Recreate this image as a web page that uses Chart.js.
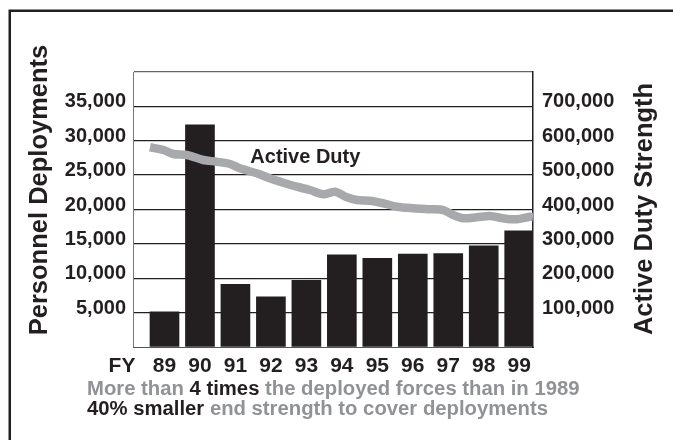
<!DOCTYPE html>
<html><head><meta charset="utf-8">
<script src="https://cdn.jsdelivr.net/npm/chart.js@4"></script>
<style>html,body{margin:0;padding:0;background:#fff}#wrap{position:relative;width:673px;height:440px}</style>
</head><body><div id="wrap"><canvas id="c" width="673" height="440"></canvas></div>
<script>
const years = ['89','90','91','92','93','94','95','96','97','98','99'];
const deployments = [5100,32300,9100,7300,9700,13400,12900,13500,13600,14700,16900];
// Active duty strength (x in fiscal-year index units)
const strengthX = [-0.41,-0.03,0.25,0.63,1.09,1.47,1.85,2.13,2.60,2.97,3.35,3.73,4.10,4.48,4.81,5.14,5.42,5.79,6.17,6.55,7.01,7.49,7.86,8.14,8.42,8.80,9.18,9.55,9.93,10.30,10.39];
const strengthY = [581000,573000,561500,558500,544000,539000,532400,519800,505300,490800,478000,466300,456700,444200,451800,435500,427600,425600,418000,408100,403500,400600,398500,384000,374400,377300,381100,374400,371500,379100,378000];
const leftTitle = 'Personnel Deployments';
const rightTitle = 'Active Duty Strength';
const lineLabel = 'Active Duty';
const caption1 = [['g','More than '],['k','4 times'],['g',' the deployed forces than in 1989']];
const caption2 = [['k','40% smaller'],['g',' end strength to cover deployments']];

const BLACK = '#231f20', GRAY = '#909295', LINE = '#a7a9ac';
const FONT = '"Liberation Sans", Arial, Helvetica, sans-serif';

const decor = {
  id: 'decor',
  beforeDraw(chart) {
    const c = chart.ctx; c.save(); c.fillStyle = '#fff'; c.fillRect(0, 0, chart.width, chart.height); c.restore();
  },
  afterDraw(chart) {
    const c = chart.ctx; c.save();
    c.strokeStyle = BLACK; c.lineWidth = 2.5; c.strokeRect(9.75, 10.75, 700, 500);
    c.fillStyle = BLACK;
    c.font = 'bold 25.5px ' + FONT; c.textAlign = 'center'; c.textBaseline = 'alphabetic';
    c.save(); c.translate(47, 190); c.rotate(-Math.PI / 2); c.fillText(leftTitle, 0, 0); c.restore();
    c.save(); c.translate(652, 209); c.rotate(-Math.PI / 2); c.fillText(rightTitle, 0, 0); c.restore();
    c.font = 'bold 21px ' + FONT; c.fillText('FY', 122, 372);
    const xs = chart.scales.x, y1 = chart.scales.y1;
    c.font = 'bold 20px ' + FONT; c.textAlign = 'left';
    c.fillText(lineLabel, xs.getPixelForValue(2.42), y1.getPixelForValue(534000));
    const seg = (x, y, parts) => {
      c.font = 'bold 20.3px ' + FONT; c.textAlign = 'left';
      for (const [col, t] of parts) { c.fillStyle = col === 'k' ? BLACK : GRAY; c.fillText(t, x, y); x += c.measureText(t).width; }
    };
    seg(87, 395, caption1);
    seg(87, 415, caption2);
    c.restore();
  }
};

new Chart(document.getElementById('c'), {
  type: 'bar',
  data: {
    datasets: [
      { type: 'line', label: lineLabel, data: strengthX.map((x, i) => ({x, y: strengthY[i]})), xAxisID: 'x', yAxisID: 'y1',
        borderColor: LINE, borderWidth: 8.5, pointRadius: 0, tension: 0.3, borderJoinStyle: 'round', borderCapStyle: 'butt', order: 0 },
      { type: 'bar', label: 'Personnel Deployments', data: deployments.map((y, i) => ({x: i, y})), xAxisID: 'x', yAxisID: 'y',
        backgroundColor: BLACK, barThickness: 29, order: 1 }
    ]
  },
  options: {
    responsive: false, animation: false, events: [],
    layout: { padding: { left: 0, right: 0, top: 72, bottom: 0 } },
    plugins: { legend: { display: false }, tooltip: { enabled: false }, title: { display: false } },
    scales: {
      x: { type: 'linear', min: -0.888, max: 10.389, offset: false,
        grid: { display: false, drawTicks: false },
        border: { display: true, color: '#555', width: 1 },
        ticks: { stepSize: 1, includeBounds: false, autoSkip: false, maxRotation: 0, padding: 7,
          color: BLACK, font: { family: FONT, size: 21, weight: 'bold' },
          callback: v => years[v] ?? '' },
        afterFit: s => { s.height = 93; } },
      y: { position: 'left', min: 0, max: 40000,
        grid: { drawTicks: false, lineWidth: 1.3,
          color: ctx => ctx.tick.value === 40000 ? '#666' : (ctx.tick.value === 0 ? 'rgba(0,0,0,0)' : BLACK) },
        border: { display: true, color: '#777', width: 1 },
        ticks: { stepSize: 5000, padding: 7, labelOffset: -4.5, color: BLACK, font: { family: FONT, size: 20, weight: 'bold' },
          callback: v => (v === 0 || v === 40000) ? '' : v.toLocaleString('en-US') },
        afterFit: s => { s.width = 133; } },
      y1: { position: 'right', min: 0, max: 800000,
        grid: { drawOnChartArea: false, drawTicks: false },
        border: { display: true, color: BLACK, width: 1.5 },
        ticks: { stepSize: 100000, padding: 9, labelOffset: -4.5, color: BLACK, font: { family: FONT, size: 20, weight: 'bold' },
          callback: v => (v === 0 || v === 800000) ? '' : v.toLocaleString('en-US') },
        afterFit: s => { s.width = 140; } }
    }
  },
  plugins: [decor]
});
</script></body></html>
